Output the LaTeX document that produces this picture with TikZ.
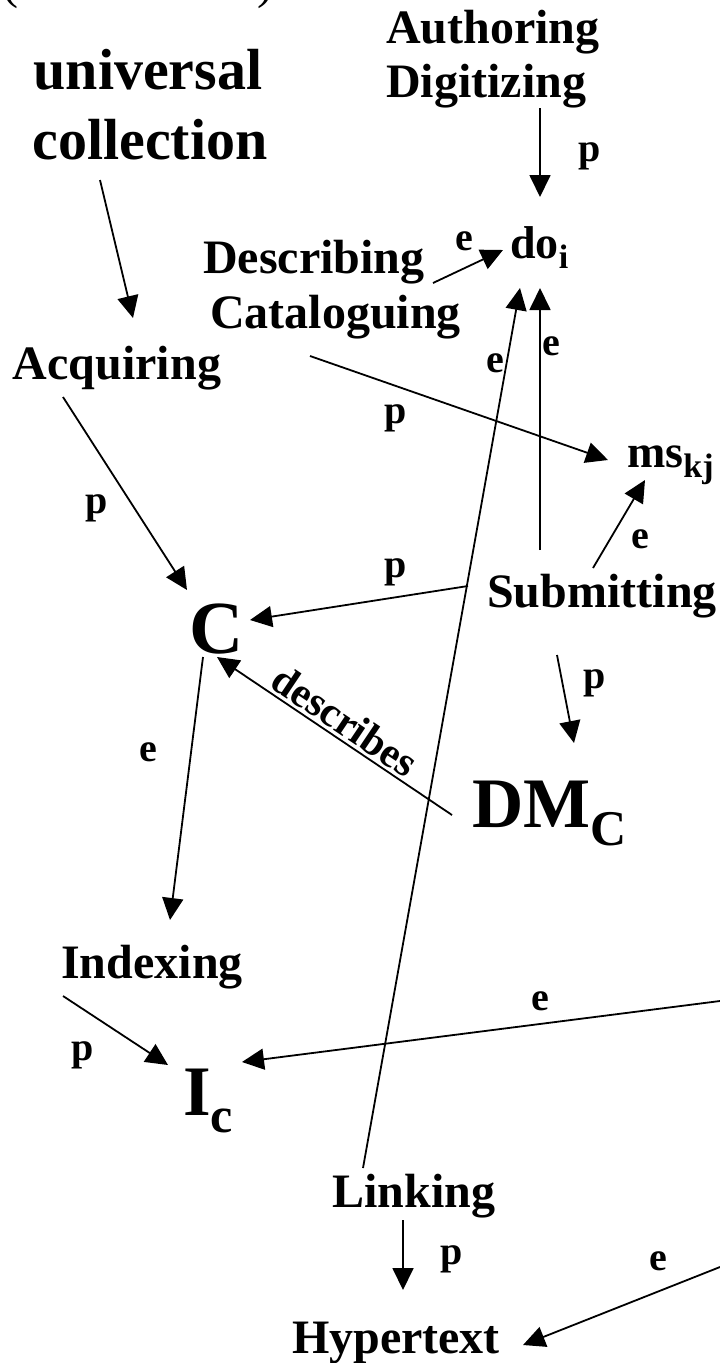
\documentclass[tikz,border=0pt]{standalone}
\usepackage{fontspec}
\setmainfont{Liberation Serif}
\usepackage{tikz}
\usetikzlibrary{arrows.meta, calc}
\newcommand{\lowtxt}[3]{\raisebox{-#1}{\fontsize{#2}{#2}\selectfont #3}}

\begin{document}
\begin{tikzpicture}[
        x=1pt, y=-1pt,
        >={Triangle[length=22pt,width=21pt]},
        act/.style={font=\fontsize{48}{54}\selectfont\bfseries, inner sep=0pt, anchor=base},
        coll/.style={font=\fontsize{58}{70}\selectfont\bfseries, inner sep=0pt, anchor=base},
        obj/.style={font=\fontsize{46}{50}\selectfont\bfseries, inner sep=0pt, anchor=base west},
        bigobj/.style={font=\fontsize{71}{80}\selectfont\bfseries, inner sep=0pt, anchor=base west},
        rel/.style={font=\fontsize{40}{44}\selectfont\bfseries, inner sep=0pt, anchor=base},
        arrow/.style={->, line width=1.8pt}
    ]
        \path [use as bounding box] (0,0) rectangle (720,1363);
        \clip (0,0) rectangle (720,1363);

        % activities and collections
        \node (fund) [act, font=\fontsize{48}{54}\selectfont] at (138,-2) {(fundamental)};
        \node (uni) [coll] at (148,89) {universal};
        \node (coll) [coll] at (150,159) {collection};
        \node (auth) [act, anchor=base west] at (386,43) {Authoring};
        \node (digi) [act, anchor=base west] at (386,97) {Digitizing};
        \node (desc) [act, anchor=base west] at (203,273) {Describing};
        \node (cat) [act, anchor=base west] at (210,328) {Cataloguing};
        \node (doi) [obj] at (510,258) {do\lowtxt{10pt}{34}{i}};
        \node (acq) [act] at (117,379) {Acquiring};
        \node (msk) [obj] at (627,467) {ms\lowtxt{10pt}{34}{kj}};
        \node (sub) [act] at (602,607) {Submitting};
        \node (C) [act, font=\fontsize{75}{80}\selectfont\bfseries] at (217,653) {C};
        \node (dm) [bigobj] at (472,827) {DM\lowtxt{18pt}{50}{C}};
        \node (idx) [act] at (152,978) {Indexing};
        \node (ic) [bigobj] at (183,1115) {I\lowtxt{17pt}{50}{c}};
        \node (link) [act] at (414,1207) {Linking};
        \node (hyp) [act] at (396,1353) {Hypertext};
        \coordinate (offI) at (720,1001);
        \coordinate (offH) at (720,1267);

        % p / e labels
        \node (pAuth) [rel] at (590,161) {p};
        \node (eDesc) [rel] at (464,250) {e};
        \node (eLink) [rel] at (495,372) {e};
        \node (eSub) [rel] at (551,355) {e};
        \node (pCat) [rel] at (396,423) {p};
        \node (pSubC) [rel] at (396,577) {p};
        \node (pAcq) [rel] at (97,513) {p};
        \node (eSubMs) [rel] at (640,548) {e};
        \node (pSubDm) [rel] at (595,688) {p};
        \node (eC) [rel] at (148,761) {e};
        \node (pIdx) [rel] at (83,1060) {p};
        \node (eOffI) [rel] at (540,1010) {e};
        \node (pLink) [rel] at (452,1264) {p};
        \node (eOffH) [rel] at (658,1270) {e};

        % connectors
        \draw [arrow] ($(coll.base)+(-50,21)$) -- ($(acq.base)+(16,-61)$);
        \draw [arrow] ($(acq.base)+(-54,18)$) -- ($(C.base)+(-30,-63)$);
        \draw [arrow] ($(digi.base west)+(154,11)$) -- ($(doi.base west)+(30,-61)$);
        \draw [arrow] ($(desc.base west)+(230,10)$) -- ($(doi.base west)+(-7,-8)$);
        \draw [arrow] ($(cat.base west)+(100,28)$) -- ($(msk.base west)+(-19,-7)$);
        \draw [arrow] ($(sub.base)+(-9,-39)$) -- ($(msk.base west)+(18,13)$);
        \draw [arrow] ($(sub.base)+(-62,-57)$) -- ($(doi.base west)+(30,30)$);
        \draw [arrow] ($(link.base)+(-51,-39)$) -- ($(doi.base west)+(10,30)$);
        \draw [arrow] ($(sub.base)+(-134,-21)$) -- ($(C.base)+(33,-33)$);
        \draw [arrow, <-] ($(C.base)+(0,4)$) -- node [sloped, above=3pt, font=\fontsize{42}{44}\selectfont\bfseries, inner sep=0pt] {describes} ($(dm.base west)+(-20,-12)$);
        \draw [arrow] ($(sub.base)+(-45,48)$) -- ($(dm.base west)+(102,-84)$);
        \draw [arrow] ($(C.base)+(-14,4)$) -- ($(idx.base)+(18,-58)$);
        \draw [arrow] ($(idx.base)+(-89,18)$) -- ($(ic.base west)+(-15,-50)$);
        \draw [arrow] (offI) -- ($(ic.base west)+(59,-53)$);
        \draw [arrow] ($(link.base)+(-11,13)$) -- ($(hyp.base)+(7,-63)$);
        \draw [arrow] (offH) -- ($(hyp.base)+(127,-8)$);
    \end{tikzpicture}
\end{document}
